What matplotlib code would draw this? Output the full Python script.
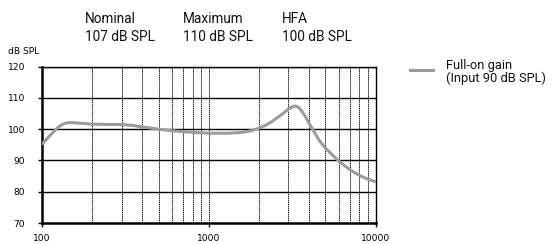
import matplotlib
matplotlib.use("Agg")
import matplotlib.pyplot as plt
from matplotlib.ticker import FixedLocator, NullFormatter

freqs = [100, 105, 110, 118, 125, 132, 140, 150, 160, 180, 200, 250, 300, 350, 400,
         500, 600, 700, 800, 1000, 1300, 1600, 1800, 2000, 2200, 2400, 2600, 2800,
         3000, 3150, 3300, 3450, 3600, 3800, 4000, 4300, 4600, 5000, 5500, 6000,
         6500, 7000, 7500, 8000, 9000, 10000]
gain = [95.3, 96.4, 97.6, 99.3, 100.6, 101.5, 102.0, 102.1, 102.0, 101.8, 101.6,
        101.5, 101.5, 101.2, 100.7, 100.0, 99.5, 99.2, 99.0, 98.7, 98.7, 99.0, 99.5,
        100.3, 101.3, 102.5, 103.8, 105.1, 106.4, 107.1, 107.4, 107.0, 105.9, 104.0,
        101.8, 99.0, 96.4, 94.0, 91.8, 89.9, 88.4, 87.1, 86.1, 85.2, 84.0, 83.2]
y_ticks = [70, 80, 90, 100, 110, 120]
x_ticks = [100, 1000, 10000]
x_tick_labels = ["100", "1000", "10000"]
header_titles = ["Nominal", "Maximum", "HFA"]
header_values = ["107 dB SPL", "110 dB SPL", "100 dB SPL"]
legend_label = "Full-on gain\n(Input 90 dB SPL)"

head_font = ["Roboto", "DejaVu Sans"]
tick_font = ["DejaVu Sans"]

fig = plt.figure(figsize=(5.53, 2.44), dpi=100)
ax = fig.add_axes([42/553, 1-223/244, (375.5-42)/553, (223-66.6)/244])
ax.set_xscale("log")
ax.set_xlim(100, 10000)
ax.set_ylim(70, 120)

# grid
for yv in y_ticks[1:]:
    ax.axhline(yv, color="black", lw=1.0, zorder=1)
minor = [m * d for d in (100, 1000) for m in range(2, 10)] + [1000]
for xv in minor:
    ax.axvline(xv, color="#222222", lw=0.7, ls=(0, (1.5, 0.6)), zorder=1)

ax.plot(freqs, gain, color="#9c9c9c", lw=2.2, zorder=3, solid_capstyle="round",
        solid_joinstyle="round")

for s in ["left", "bottom"]:
    ax.spines[s].set_linewidth(1.8)
for s in ["right", "top"]:
    ax.spines[s].set_linewidth(1.0)

ax.xaxis.set_major_locator(FixedLocator(x_ticks))
ax.xaxis.set_minor_locator(FixedLocator([]))
ax.xaxis.set_minor_formatter(NullFormatter())
ax.set_xticks(x_ticks)
ax.set_xticklabels(x_tick_labels, family=tick_font, fontsize=6.6)
ax.set_yticks(y_ticks)
ax.set_yticklabels([str(v) for v in y_ticks], family=tick_font, fontsize=6.6)
ax.tick_params(axis="both", direction="out", length=3, width=1.0, color="black")
ax.tick_params(axis="x", pad=5)
ax.tick_params(axis="y", pad=9)

fig.text(8/553, 1-52/244, "dB SPL", family=tick_font, fontsize=6.6, va="center", ha="left")

xs = [85, 183, 282]
for x, t, v in zip(xs, header_titles, header_values):
    fig.text(x/553, 1-19/244, t, family=head_font, fontsize=9.8, color="#111111",
             va="center", ha="left")
    fig.text(x/553, 1-37/244, v, family=head_font, fontsize=9.8, color="#111111",
             va="center", ha="left")

fig.add_artist(plt.Line2D([410/553, 433/553], [1-70/244, 1-70/244], color="#9c9c9c", lw=2.2))
fig.text(446/553, 1-72/244, legend_label, family=head_font, fontsize=9.3, color="#111111",
         va="center", ha="left", linespacing=1.05)

fig.savefig("out.png", dpi=100)
